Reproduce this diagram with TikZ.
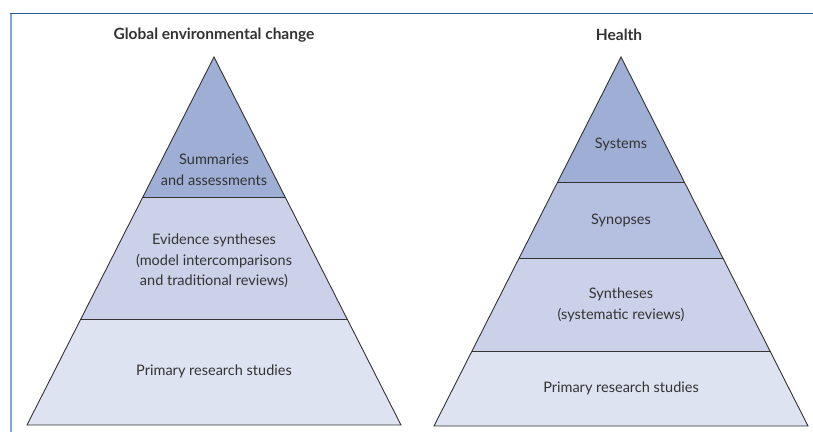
\documentclass[tikz,border=0pt]{standalone}
\usepackage{fontspec}
\setmainfont{Lato}
\usetikzlibrary{calc}
\definecolor{framedark}{HTML}{2B5C9C}
\definecolor{framelight}{HTML}{7EA6D8}
\definecolor{tierA}{HTML}{9EAED5}
\definecolor{tierB}{HTML}{B5BFDF}
\definecolor{tierC}{HTML}{CBD1E9}
\definecolor{tierD}{HTML}{DDE3F0}
\definecolor{inkgrey}{HTML}{333333}
\begin{document}
\begin{tikzpicture}[x=1pt,y=-1pt,
  tier/.style={draw=inkgrey,line width=0.9pt,line join=miter},
  label/.style={align=center,text=inkgrey,font=\fontsize{14.5}{20.5}\selectfont,inner sep=0pt},
  title/.style={text=inkgrey,font=\fontsize{15.5}{18}\bfseries\selectfont,inner sep=0pt}]
  \useasboundingbox (0,0) rectangle (813,432);
  % frame
  \draw [framelight,line width=1.6pt] (11,13) -- (11,432);
  \draw [framedark,line width=1pt] (10.2,13) -- (813,13);
  % left pyramid
  \coordinate (gtop) at (214,57);
  \coordinate (gbl) at (27,425);
  \coordinate (gbr) at (401,425);
  \coordinate (g1l) at ($(gtop)!0.383!(gbl)$);
  \coordinate (g1r) at ($(gtop)!0.383!(gbr)$);
  \coordinate (g2l) at ($(gtop)!0.712!(gbl)$);
  \coordinate (g2r) at ($(gtop)!0.712!(gbr)$);
  \fill [tierD] (g2l) -- (g2r) -- (gbr) -- (gbl) -- cycle;
  \fill [tierC] (g1l) -- (g1r) -- (g2r) -- (g2l) -- cycle;
  \fill [tierA] (gtop) -- (g1r) -- (g1l) -- cycle;
  \draw [tier] (gtop) -- (gbr) -- (gbl) -- cycle;
  \draw [tier] (g1l) -- (g1r);
  \draw [tier] (g2l) -- (g2r);
  \node [title] (gtitle) at (214,35) {Global environmental change};
  \node [label] (gsum) at (214,170) {Summaries\\and assessments};
  \node [label] (gsyn) at (214,261) {Evidence syntheses\\(model intercomparisons\\and traditional reviews)};
  \node [label] (gprim) at (214,371) {Primary research studies};
  % right pyramid
  \coordinate (htop) at (621,57);
  \coordinate (hbl) at (434,426);
  \coordinate (hbr) at (808,426);
  \coordinate (h1l) at ($(htop)!0.339!(hbl)$);
  \coordinate (h1r) at ($(htop)!0.339!(hbr)$);
  \coordinate (h2l) at ($(htop)!0.545!(hbl)$);
  \coordinate (h2r) at ($(htop)!0.545!(hbr)$);
  \coordinate (h3l) at ($(htop)!0.797!(hbl)$);
  \coordinate (h3r) at ($(htop)!0.797!(hbr)$);
  \fill [tierD] (h3l) -- (h3r) -- (hbr) -- (hbl) -- cycle;
  \fill [tierC] (h2l) -- (h2r) -- (h3r) -- (h3l) -- cycle;
  \fill [tierB] (h1l) -- (h1r) -- (h2r) -- (h2l) -- cycle;
  \fill [tierA] (htop) -- (h1r) -- (h1l) -- cycle;
  \draw [tier] (htop) -- (hbr) -- (hbl) -- cycle;
  \draw [tier] (h1l) -- (h1r);
  \draw [tier] (h2l) -- (h2r);
  \draw [tier] (h3l) -- (h3r);
  \node [title] (htitle) at (619,35) {Health};
  \node [label] (hsys) at (621,144) {Systems};
  \node [label] (hsnp) at (621,220) {Synopses};
  \node [label] (hsyn) at (621,305) {Syntheses\\(systematic reviews)};
  \node [label] (hprim) at (621,388) {Primary research studies};
\end{tikzpicture}
\end{document}
